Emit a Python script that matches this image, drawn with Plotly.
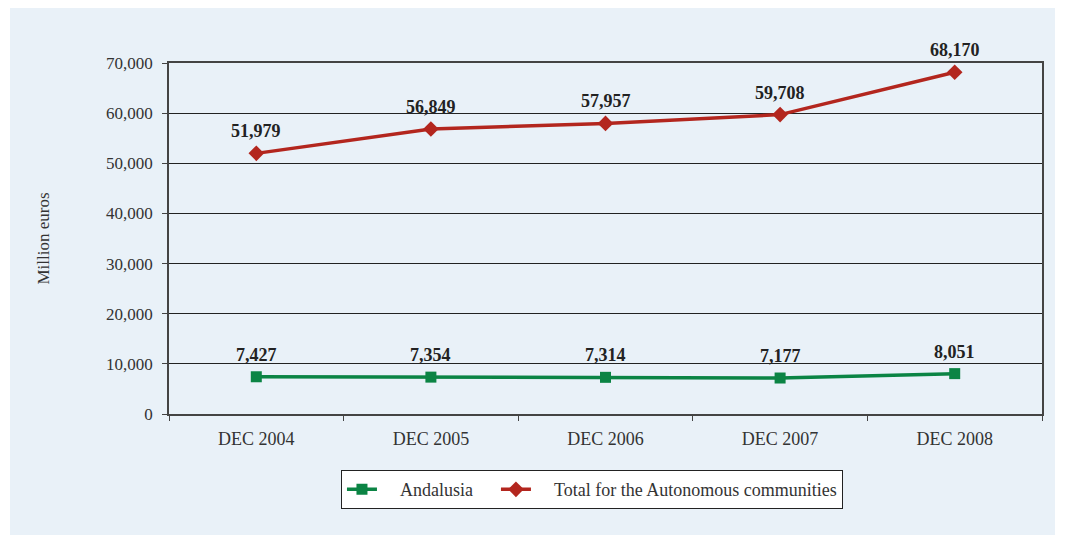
import plotly.graph_objects as go

categories = ["DEC 2004", "DEC 2005", "DEC 2006", "DEC 2007", "DEC 2008"]
andalusia = [7427, 7354, 7314, 7177, 8051]
total_ac = [51979, 56849, 57957, 59708, 68170]
y_ticks = [0, 10000, 20000, 30000, 40000, 50000, 60000, 70000]
series_names = ["Andalusia", "Total for the Autonomous communities"]

FONT = "Liberation Serif, serif"
W, H = 1059, 531
L, R, T, B = 161, 25, 55, 125
PW, PH = W - L - R, H - T - B
PAD_L = "&nbsp;" * 4
PAD_R = "&nbsp;" * 4

fig = go.Figure()
fig.add_trace(go.Scatter(
    x=categories, y=andalusia, name=PAD_L + series_names[0] + PAD_R,
    mode="lines+markers",
    line=dict(color="#0b8444", width=3.5),
    marker=dict(symbol="square", size=11, color="#0b8444"),
))
fig.add_trace(go.Scatter(
    x=categories, y=total_ac, name=PAD_L + series_names[1],
    mode="lines+markers",
    line=dict(color="#b3261e", width=3.5),
    marker=dict(symbol="diamond", size=12, color="#b3261e"),
))

for series in (andalusia, total_ac):
    for c, v in zip(categories, series):
        fig.add_annotation(x=c, y=v, text=f"<b>{v:,}</b>", showarrow=False,
                           yanchor="bottom", yshift=10,
                           font=dict(family=FONT, size=18, color="#222222"))

fig.add_shape(type="rect", xref="paper", yref="paper",
              x0=(2 - L) / PW, x1=(1047 - L) / PW,
              y0=(T + PH - 527) / PH, y1=(T + PH) / PH,
              fillcolor="#e9f1f8", line=dict(width=0), layer="below")

fig.update_layout(
    width=W, height=H,
    paper_bgcolor="white", plot_bgcolor="white",
    margin=dict(l=L, r=R, t=T, b=B),
    font=dict(family=FONT, size=16, color="#333333"),
    showlegend=True,
    legend=dict(orientation="h", x=0.4845, xanchor="center", y=-0.16, yanchor="top",
                bgcolor="white", bordercolor="#222222", borderwidth=1,
                font=dict(family=FONT, size=18, color="#333333"),
                tracegroupgap=0),
    xaxis=dict(type="category", range=[-0.5, 4.5], showgrid=False,
               showline=True, linecolor="#444444", linewidth=1.5, mirror=True,
               ticks="outside", tickson="boundaries", ticklen=5, tickcolor="#444444",
               ticklabelstandoff=8,
               tickfont=dict(family=FONT, size=18, color="#333333")),
    yaxis=dict(range=[0, 70000], tickvals=y_ticks, tickformat=",d",
               showgrid=True, gridcolor="#222222", gridwidth=1,
               showline=True, linecolor="#444444", linewidth=1.5, mirror=True,
               ticks="outside", ticklen=5, tickcolor="#444444",
               ticklabelstandoff=6,
               tickfont=dict(family=FONT, size=17, color="#333333"),
               title=dict(text="Million euros", standoff=52,
                          font=dict(family=FONT, size=17, color="#333333"))),
)

fig.write_html("out.html")
